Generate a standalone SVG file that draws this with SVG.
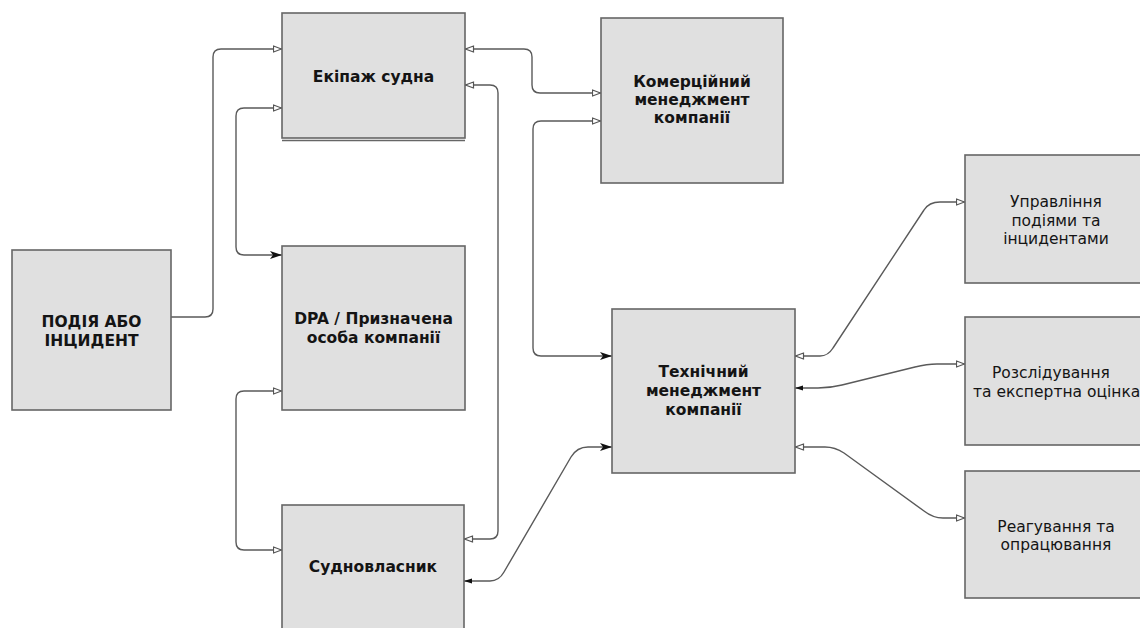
<svg xmlns="http://www.w3.org/2000/svg" width="1140" height="628" viewBox="0 0 1140 628">
<style>
.box{fill:#e0e0e0;stroke:#666;stroke-width:1.6}
.b{font-family:"DejaVu Sans",Verdana,sans-serif;font-weight:bold;font-size:15.5px;fill:#141414;text-anchor:middle}
.r{font-family:"DejaVu Sans",Verdana,sans-serif;font-size:15.5px;fill:#141414;text-anchor:middle}
.c{fill:none;stroke:#5a5a5a;stroke-width:1.4}
</style>
<defs>
<marker id="o" viewBox="0 0 10 8" refX="9.5" refY="4" markerWidth="10" markerHeight="8" markerUnits="userSpaceOnUse" orient="auto-start-reverse">
<path d="M1,1 L9,4 L1,7 z" fill="#fff" stroke="#555" stroke-width="1.2"/>
</marker>
<marker id="f" viewBox="0 0 12 9" refX="12" refY="4.5" markerWidth="12" markerHeight="9" markerUnits="userSpaceOnUse" orient="auto-start-reverse">
<path d="M0,0.5 L12,4.5 L0,8.5 L3,4.5 z" fill="#111"/>
</marker>
<marker id="s" viewBox="0 0 8 7" refX="8" refY="3.5" markerWidth="8" markerHeight="7" markerUnits="userSpaceOnUse" orient="auto-start-reverse">
<path d="M0,1 L8,3.5 L0,6 z" fill="#111"/>
</marker>
</defs>
<g id="connectors">
<path class="c" d="M171,317 H205 Q213,317 213,309 V57 Q213,49 221,49 H282" marker-end="url(#o)"/>
<path class="c" d="M282,108 H244 Q236,108 236,116 V247 Q236,255 244,255 H282" marker-start="url(#o)" marker-end="url(#f)"/>
<path class="c" d="M282,391 H244 Q236,391 236,399 V542 Q236,550 244,550 H282" marker-start="url(#o)" marker-end="url(#o)"/>
<path class="c" d="M465,85 H490 Q498,85 498,93 V531 Q498,539 490,539 H464" marker-start="url(#o)" marker-end="url(#o)"/>
<path class="c" d="M465,49 H524 Q532,49 532,57 V85 Q532,93 540,93 H601" marker-start="url(#o)" marker-end="url(#o)"/>
<path class="c" d="M601,121 H541 Q533,121 533,129 V348 Q533,356 541,356 H612" marker-start="url(#o)" marker-end="url(#f)"/>
<path class="c" d="M464,581 H490 Q499,581 504,572 L571,457 Q577,447 588,447 H612" marker-start="url(#s)" marker-end="url(#f)"/>
<path class="c" d="M795,356 H820 Q828,356 833,348 L924,210 Q929,202 940,202 H965" marker-start="url(#o)" marker-end="url(#o)"/>
<path class="c" d="M795,388 H818 Q830,388 842,385 L915,367 Q927,364 937,364 H965" marker-start="url(#s)" marker-end="url(#o)"/>
<path class="c" d="M795,447 H825 Q835,447 844,453 L924,511 Q933,518 943,518 H965" marker-start="url(#o)" marker-end="url(#o)"/>
</g>
<g id="ekipazh">
<rect class="box" x="282" y="13" width="183" height="125"/>
<line x1="282" y1="140.5" x2="465" y2="140.5" stroke="#666" stroke-width="1.6"/>
<text class="b" x="373.5" y="82">Екіпаж судна</text>
</g>
<g id="podiya">
<rect class="box" x="12" y="250" width="159" height="160"/>
<text class="b" x="91.5" y="327">ПОДІЯ АБО</text>
<text class="b" x="91.5" y="346">ІНЦИДЕНТ</text>
</g>
<g id="dpa">
<rect class="box" x="282" y="246" width="183" height="164"/>
<text class="b" x="373.5" y="324">DPA / Призначена</text>
<text class="b" x="373.5" y="343">особа компанії</text>
</g>
<g id="sudnovlasnyk">
<rect class="box" x="282" y="505" width="182" height="126"/>
<text class="b" x="373" y="572">Судновласник</text>
</g>
<g id="komertsiynyi">
<rect class="box" x="601" y="18" width="182" height="165"/>
<text class="b" x="692" y="87">Комерційний</text>
<text class="b" x="692" y="105">менеджмент</text>
<text class="b" x="692" y="123">компанії</text>
</g>
<g id="tekhnichnyi">
<rect class="box" x="612" y="309" width="183" height="164"/>
<text class="b" x="703.5" y="377">Технічний</text>
<text class="b" x="703.5" y="396">менеджмент</text>
<text class="b" x="703.5" y="415">компанії</text>
</g>
<g id="upravlinnya">
<rect class="box" x="965" y="155" width="182" height="128"/>
<text class="r" x="1056" y="207">Управління</text>
<text class="r" x="1056" y="226">подіями та</text>
<text class="r" x="1056" y="244">інцидентами</text>
</g>
<g id="rozsliduvannya">
<rect class="box" x="965" y="317" width="182" height="128"/>
<text class="r" x="992" y="378" style="text-anchor:start">Розслідування</text>
<text class="r" x="973" y="397" style="text-anchor:start">та експертна оцінка</text>
</g>
<g id="reaguvannya">
<rect class="box" x="965" y="471" width="182" height="127"/>
<text class="r" x="1056" y="532">Реагування та</text>
<text class="r" x="1056" y="550">опрацювання</text>
</g>
</svg>
